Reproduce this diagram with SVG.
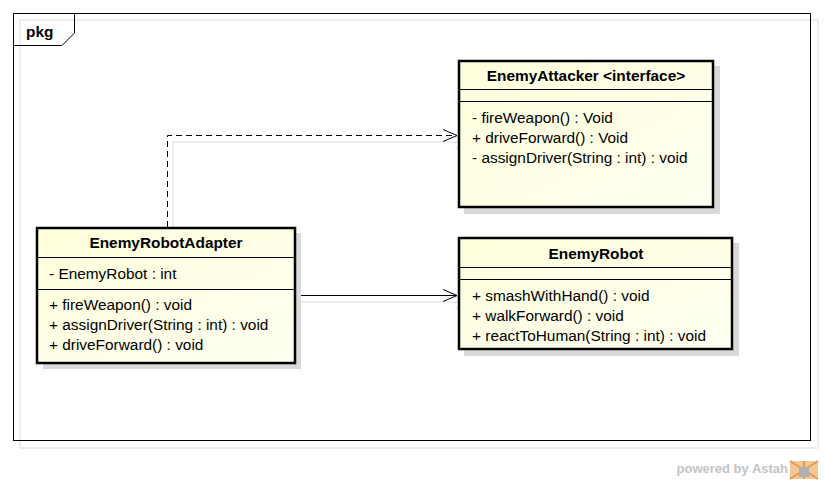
<svg xmlns="http://www.w3.org/2000/svg" width="824" height="481" viewBox="0 0 824 481">
<style>
text{font-family:"Liberation Sans",Arial,sans-serif;font-size:15.4px;fill:#000}
.b{font-weight:bold}
.box{fill:url(#g);stroke:#000;stroke-width:2.5}
.shadow{fill:#d9d9d9;stroke:none}
.div{stroke:#000;stroke-width:1}
.conn{fill:none;stroke:#000;stroke-width:1}
.cshadow{fill:none;stroke:#dcdcdc;stroke-width:1}
</style>
<defs>
<linearGradient id="g" x1="0" y1="0" x2="1" y2="1">
<stop offset="0" stop-color="#FFFFDC"/>
<stop offset="1" stop-color="#FFFFF2"/>
</linearGradient>
<marker id="open" markerWidth="16" markerHeight="14" refX="15" refY="7" orient="auto" markerUnits="userSpaceOnUse">
<path d="M1,1 L15,7 L1,13" fill="none" stroke="#000" stroke-width="1"/>
</marker>
<marker id="openg" markerWidth="16" markerHeight="14" refX="15" refY="7" orient="auto" markerUnits="userSpaceOnUse">
<path d="M1,1 L15,7 L1,13" fill="none" stroke="#dcdcdc" stroke-width="1"/>
</marker>
</defs>
<rect width="824" height="481" fill="#fff"/>
<g id="frame">
<rect x="20" y="20" width="798" height="428" fill="none" stroke="#dcdcdc" stroke-width="1"/>
<rect x="13.5" y="13.5" width="797" height="427" fill="none" stroke="#000" stroke-width="1"/>
<path d="M13.5,45.5 L62,45.5 L74.5,33 L74.5,13.5" fill="none" stroke="#000" stroke-width="1"/>
<text class="b" x="26" y="37">pkg</text>
</g>
<g id="connectors">
<path class="cshadow" d="M173,227 L173,142 L470,142" marker-end="url(#openg)"/>
<path class="conn" d="M167.5,227 L167.5,135.5 L457,135.5" stroke-dasharray="6,4" marker-end="url(#open)"/>
<path class="cshadow" d="M297,302 L470,302" marker-end="url(#openg)"/>
<path class="conn" d="M296,295.5 L457,295.5" marker-end="url(#open)"/>
</g>
<g id="EnemyAttacker">
<rect class="shadow" x="464" y="66" width="256" height="148"/>
<rect class="box" x="459" y="61" width="254" height="146"/>
<line class="div" x1="459" y1="89.5" x2="713" y2="89.5"/>
<line class="div" x1="459" y1="101.5" x2="713" y2="101.5"/>
<text class="b" x="586" y="81" text-anchor="middle">EnemyAttacker &lt;interface&gt;</text>
<text x="472" y="123">- fireWeapon() : Void</text>
<text x="472" y="143">+ driveForward() : Void</text>
<text x="472" y="163">- assignDriver(String : int) : void</text>
</g>
<g id="EnemyRobot">
<rect class="shadow" x="464" y="243" width="275" height="113"/>
<rect class="box" x="459" y="238" width="273" height="111"/>
<line class="div" x1="459" y1="267.5" x2="732" y2="267.5"/>
<line class="div" x1="459" y1="279.5" x2="732" y2="279.5"/>
<text class="b" x="596" y="259" text-anchor="middle">EnemyRobot</text>
<text x="472" y="301">+ smashWithHand() : void</text>
<text x="472" y="321">+ walkForward() : void</text>
<text x="472" y="341">+ reactToHuman(String : int) : void</text>
</g>
<g id="EnemyRobotAdapter">
<rect class="shadow" x="43" y="233" width="258" height="136"/>
<rect class="box" x="37" y="228" width="258" height="135"/>
<line class="div" x1="37" y1="257.5" x2="295" y2="257.5"/>
<line class="div" x1="37" y1="289.5" x2="295" y2="289.5"/>
<text class="b" x="166" y="248" text-anchor="middle">EnemyRobotAdapter</text>
<text x="49" y="279">- EnemyRobot : int</text>
<text x="49" y="310">+ fireWeapon() : void</text>
<text x="49" y="330">+ assignDriver(String : int) : void</text>
<text x="49" y="350">+ driveForward() : void</text>
</g>
<g id="watermark">
<text x="788" y="473" text-anchor="end" style="font-size:13px;font-weight:bold;fill:#c4c4c4">powered by Astah</text>
<rect x="790" y="461" width="28" height="18" fill="#f3c79a"/>
<path d="M790,461 L818,479 M818,461 L790,479 M804,461 L804,479" stroke="#e89a4a" stroke-width="2"/>
<rect x="799" y="467" width="10" height="10" fill="#b0b0b0"/>
</g>
</svg>
